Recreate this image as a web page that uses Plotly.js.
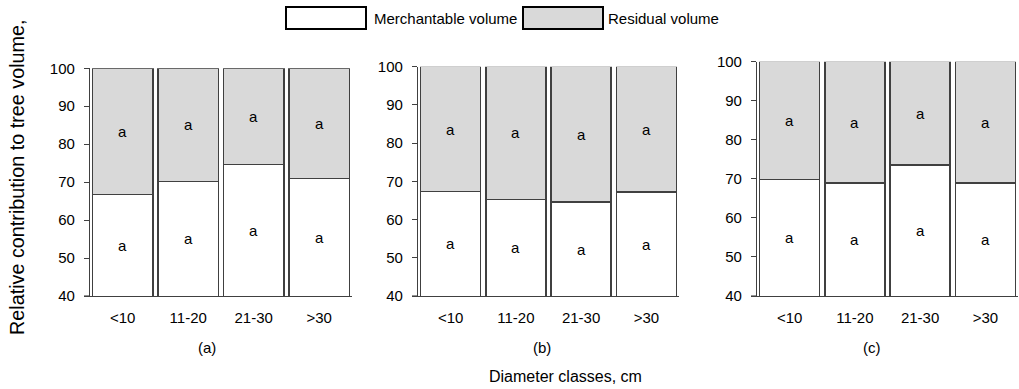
<!DOCTYPE html>
<html>
<head>
<meta charset="utf-8">
<script src="https://cdn.plot.ly/plotly-3.0.1.min.js"></script>
<style>html,body{margin:0;padding:0;background:#fff;}#chart{width:1019px;height:389px;}</style>
</head>
<body>
<div id="chart"></div>
<script>
// ---- data ----
var categories = ["<10", "11-20", "21-30", ">30"];
var panelLabels = ["(a)", "(b)", "(c)"];
var merchA = [66.7, 70.2, 74.6, 71.0];
var residA = [33.3, 29.8, 25.4, 29.0];
var merchB = [67.3, 65.3, 64.6, 67.2];
var residB = [32.7, 34.7, 35.4, 32.8];
var merchC = [69.8, 68.9, 73.6, 68.9];
var residC = [30.2, 31.1, 26.4, 31.1];
var lettersMerch = [["a","a","a","a"],["a","a","a","a"],["a","a","a","a"]];
var lettersResid = [["a","a","a","a"],["a","a","a","a"],["a","a","a","a"]];
var seriesNames = ["Merchantable volume", "Residual volume"];
var yTitle = "Relative contribution to tree volume,";
var xTitle = "Diameter classes, cm";

// ---- styling ----
var FONT = "Liberation Sans, Arial, Helvetica, sans-serif";
var W = 1019, H = 389;
var edge = "#404040";
var fillMerch = "#ffffff";
var fillResid = "#d9d9d9";
var yMin = 40, yMax = 100;
var FS = 15;

var merch = [merchA, merchB, merchC];
var resid = [residA, residB, residC];
var xDomains = [[0.0883, 0.3454], [0.4102, 0.6663], [0.7429, 0.999]];
var yDomains = [[0.239, 0.8245], [0.239, 0.8286], [0.239, 0.8414]];
var panelLabelX = [0.203, 0.5316, 0.8554];

var traces = [];
var annotations = [];
var shapes = [];
var layout = {
  width: W, height: H,
  margin: {l: 0, r: 0, t: 0, b: 0},
  paper_bgcolor: "#fff", plot_bgcolor: "rgba(0,0,0,0)",
  font: {family: FONT, size: FS, color: "#000"},
  barmode: "stack", bargap: 0.08,
  showlegend: false,
  shapes: shapes,
  annotations: annotations
};

for (var p = 0; p < 3; p++) {
  var xa = "x" + (p === 0 ? "" : p + 1);
  var ya = "y" + (p === 0 ? "" : p + 1);
  traces.push({
    type: "bar", name: seriesNames[0], x: categories, y: merch[p],
    xaxis: xa, yaxis: ya,
    marker: {color: fillMerch, line: {color: edge, width: 1.5}},
    hoverinfo: "x+y+name"
  });
  traces.push({
    type: "bar", name: seriesNames[1], x: categories, y: resid[p],
    xaxis: xa, yaxis: ya,
    marker: {color: fillResid, line: {color: edge, width: 1.5}},
    hoverinfo: "x+y+name"
  });
  var xk = "xaxis" + (p === 0 ? "" : p + 1);
  var yk = "yaxis" + (p === 0 ? "" : p + 1);
  layout[xk] = {
    domain: xDomains[p], anchor: ya, type: "category",
    showline: true, linecolor: edge, linewidth: 1.2,
    ticks: "", showgrid: false, zeroline: false,
    ticklabelstandoff: 8,
    tickfont: {family: FONT, size: FS, color: "#000"},
    fixedrange: true
  };
  layout[yk] = {
    domain: yDomains[p], anchor: xa, range: [yMin, yMax], dtick: 10,
    showline: true, linecolor: edge, linewidth: 1.2,
    ticks: "outside", ticklen: 5, tickcolor: edge, tickwidth: 1.2,
    showgrid: false, zeroline: false,
    ticklabelstandoff: 6,
    tickfont: {family: FONT, size: FS, color: "#000"},
    fixedrange: true
  };
  // x axis line continues under the y tick marks
  shapes.push({type: "line", xref: "paper", yref: "paper",
    x0: xDomains[p][0] - 6 / W, x1: xDomains[p][0],
    y0: yDomains[p][0], y1: yDomains[p][0],
    line: {color: edge, width: 1.2}});
  for (var i = 0; i < categories.length; i++) {
    var m = merch[p][i];
    var segTop = m + resid[p][i];
    annotations.push({
      xref: xa, yref: ya, x: categories[i], y: (yMin + m) / 2,
      text: lettersMerch[p][i], showarrow: false,
      font: {family: FONT, size: FS, color: "#000"}
    });
    annotations.push({
      xref: xa, yref: ya, x: categories[i], y: (m + segTop) / 2,
      text: lettersResid[p][i], showarrow: false,
      font: {family: FONT, size: FS, color: "#000"}
    });
  }
  annotations.push({
    xref: "paper", yref: "paper", x: panelLabelX[p], y: 1 - 347 / H,
    xanchor: "center", yanchor: "middle",
    text: panelLabels[p], showarrow: false,
    font: {family: FONT, size: FS, color: "#000"}
  });
}

// axis titles
annotations.push({
  xref: "paper", yref: "paper", x: 0.5545, y: 1 - 376 / H,
  xanchor: "center", yanchor: "middle",
  text: xTitle, showarrow: false,
  font: {family: FONT, size: 16, color: "#000"}
});
annotations.push({
  xref: "paper", yref: "paper", x: 17 / W, y: 1 - 177 / H, textangle: -90,
  xanchor: "center", yanchor: "middle",
  text: yTitle, showarrow: false,
  font: {family: FONT, size: 19.8, color: "#000"}
});

// legend (boxes + labels)
shapes.push({type: "rect", xref: "paper", yref: "paper",
  x0: 286 / W, x1: 366 / W, y0: 1 - 29 / H, y1: 1 - 7 / H,
  fillcolor: fillMerch, line: {color: "#000", width: 2}});
shapes.push({type: "rect", xref: "paper", yref: "paper",
  x0: 523 / W, x1: 603 / W, y0: 1 - 29 / H, y1: 1 - 7 / H,
  fillcolor: fillResid, line: {color: "#000", width: 2}});
annotations.push({xref: "paper", yref: "paper", x: 372 / W, y: 1 - 18 / H,
  xanchor: "left", yanchor: "middle", text: seriesNames[0], showarrow: false,
  font: {family: FONT, size: FS, color: "#000"}});
annotations.push({xref: "paper", yref: "paper", x: 606 / W, y: 1 - 18 / H,
  xanchor: "left", yanchor: "middle", text: seriesNames[1], showarrow: false,
  font: {family: FONT, size: FS, color: "#000"}});

Plotly.newPlot("chart", traces, layout, {displayModeBar: false});
</script>
</body>
</html>
